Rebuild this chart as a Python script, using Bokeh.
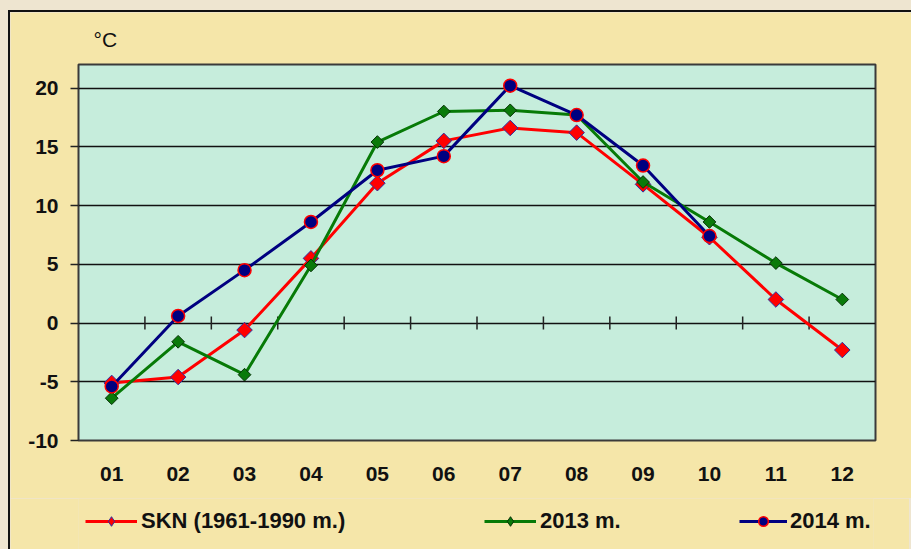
import math
from bokeh.plotting import figure
from bokeh.models import Range1d, FixedTicker, Legend, LegendItem, Column
from bokeh.embed import file_html
from bokeh.resources import INLINE

# ---- data ----
months = ["01", "02", "03", "04", "05", "06", "07", "08", "09", "10", "11", "12"]
skn = [-5.1, -4.6, -0.6, 5.5, 11.9, 15.5, 16.6, 16.2, 11.8, 7.3, 2.0, -2.3]
y2013 = [-6.4, -1.6, -4.4, 4.9, 15.4, 18.0, 18.1, 17.7, 12.0, 8.6, 5.1, 2.0]
y2014 = [-5.4, 0.6, 4.5, 8.6, 13.0, 14.2, 20.2, 17.7, 13.4, 7.4]
y_ticks = [-10, -5, 0, 5, 10, 15, 20]
labels = ["SKN (1961-1990 m.)", "2013 m.", "2014 m."]
unit = "°C"

FONT = "Liberation Sans"
YELLOW = "#f5e6a9"

# series styles
RED = dict(line="#ff0000", marker="square", size=11, fill="#ff0000", edge="#3030a0", ew=1)
GREEN = dict(line="#077a07", marker="square", size=9, fill="#0a7a0a", edge="#063306", ew=1)
BLUE = dict(line="#000080", marker="circle", size=13, fill="#000080", edge="#ff0000", ew=1.5)

xs = list(range(1, len(months) + 1))
x14 = xs[:len(y2014)]

p = figure(
    frame_width=795, frame_height=374,
    x_range=Range1d(0.5, len(months) + 0.5), y_range=Range1d(-10, 22),
    output_backend="svg", toolbar_location=None,
    min_border_left=68, min_border_right=38, min_border_top=52, min_border_bottom=60,
    background_fill_color="#c6eddc", border_fill_color=YELLOW,
    outline_line_color="#3a3a3a", outline_line_width=2,
)
p.styles = {"border-left": "2px solid #111", "border-top": "2px solid #111"}

p.title.text = unit
p.title.text_font = FONT
p.title.text_font_size = "21px"
p.title.text_font_style = "normal"
p.title.text_color = "#111111"
p.title.align = "left"
p.title.offset = 15
p.title.standoff = 27

# axes
p.xaxis.ticker = FixedTicker(ticks=xs)
p.xaxis.major_label_overrides = {x: m for x, m in zip(xs, months)}
p.xaxis.major_tick_out = 0
p.xaxis.major_tick_in = 0
p.xaxis.minor_tick_line_color = None
p.xaxis.axis_line_color = None
p.xaxis.major_label_standoff = 26

p.yaxis.ticker = FixedTicker(ticks=y_ticks)
p.yaxis.major_label_overrides = {t: str(t) for t in y_ticks}
p.yaxis.major_tick_out = 8
p.yaxis.major_tick_in = 0
p.yaxis.major_tick_line_color = "#222222"
p.yaxis.major_tick_line_width = 1.5
p.yaxis.minor_tick_line_color = None
p.yaxis.axis_line_color = None
p.yaxis.major_label_standoff = 12

for ax in (p.xaxis, p.yaxis):
    ax.major_label_text_font = FONT
    ax.major_label_text_font_size = "21px"
    ax.major_label_text_font_style = "bold"
    ax.major_label_text_color = "#111111"

p.xgrid.visible = False
p.ygrid.ticker = FixedTicker(ticks=y_ticks)
p.ygrid.grid_line_color = "#111111"
p.ygrid.grid_line_width = 1.5

# category boundary ticks on the zero line
bx = [x + 0.5 for x in xs[:-1]]
p.scatter(bx, [0] * len(bx), marker="dash", angle=math.pi / 2, size=13,
          line_color="#222222", line_width=1.5)


def draw(fig, x, y, st, legend_key=False):
    ln = fig.line(x, y, line_color=st["line"], line_width=3)
    marker = st["marker"]
    angle = 0
    if marker == "square":
        if legend_key:
            marker = "diamond"
        else:
            angle = math.pi / 4
    sc = fig.scatter(x, y, marker=marker, size=st["size"], angle=angle,
                     fill_color=st["fill"], line_color=st["edge"], line_width=st["ew"])
    return ln, sc


series = [(xs, skn, RED), (xs, y2013, GREEN), (x14, y2014, BLUE)]
for sx, sy, st in series:
    draw(p, sx, sy, st)

# legend strip: a second figure (its frame lines up with the plot frame);
# the series are drawn outside its visible x range, so only the legend keys show
lg = figure(width=901, height=51, x_range=Range1d(-3, -2), y_range=Range1d(0, 1),
            x_axis_type=None, y_axis_type=None, output_backend="svg",
            toolbar_location=None, min_border=0,
            background_fill_color=YELLOW, border_fill_color=YELLOW,
            outline_line_color=None)
lg.xgrid.visible = False
lg.ygrid.visible = False
lg.styles = {"border-left": "2px solid #111"}

legend_x = [7, 406, 661]
legend_gw = [52, 52, 48]
legend_so = [4, 4, 3]
for lab, (sx, sy, st), lx, gw, so in zip(labels, series, legend_x, legend_gw, legend_so):
    ln, sc = draw(lg, sx, sy, st, legend_key=True)
    lg.add_layout(Legend(
        items=[LegendItem(label=lab, renderers=[ln, sc])],
        location=(lx, 15),
        glyph_width=gw, glyph_height=24, label_standoff=so,
        padding=0, margin=0, border_line_alpha=0, background_fill_alpha=0,
        label_text_font=FONT, label_text_font_style="bold", label_text_font_size="22px",
        label_text_color="#111111",
    ))

page = Column(children=[p, lg], spacing=0,
              styles={"padding-left": "8px", "padding-top": "10px",
                      "background-color": "#eee5d0"})

open("out.html", "w").write(file_html(page, INLINE))
